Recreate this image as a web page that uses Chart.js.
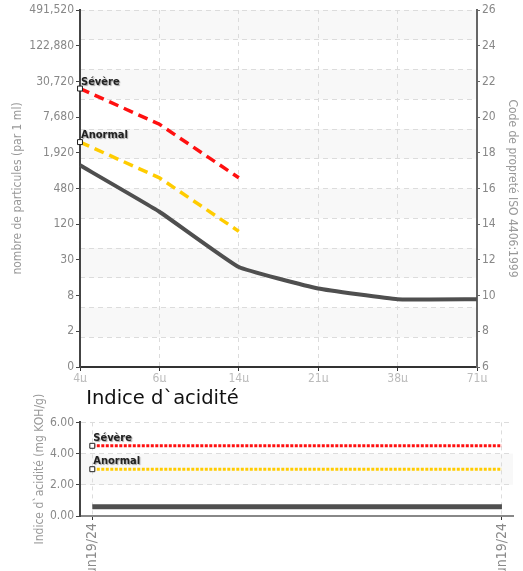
<!DOCTYPE html>
<html>
<head>
<meta charset="utf-8">
<script src="https://cdn.jsdelivr.net/npm/chart.js@4.4.1/dist/chart.umd.min.js"></script>
<style>
    body { margin: 0; background: #fff; }
    .box { position: absolute; left: 0; width: 523px; }
    #particleBox { top: 0; height: 382px; }
    #acidBox { top: 382px; height: 189px; }
</style>
</head>
<body>
<div class="box" id="particleBox"><canvas id="particleChart" width="523" height="382"></canvas></div>
<div class="box" id="acidBox"><canvas id="acidChart" width="523" height="189"></canvas></div>
<script>
// Particle counts, plotted on the ISO 4406 code scale
const sizeLabels = ['4\u00b5', '6\u00b5', '14\u00b5', '21\u00b5', '38\u00b5', '71\u00b5'];
const countTickLabels = ['0', '2', '8', '30', '120', '480', '1,920', '7,680', '30,720', '122,880', '491,520'];
const sampleCodes = [17.3, 14.7, 11.6, 10.4, 9.8, 9.8];
const severeCodes = [21.6, 19.6, 16.6];
const abnormalCodes = [18.6, 16.6, 13.6];

// Acid number
const acidDates = ['Jun19/24', 'Jun19/24'];
const acidSample = [0.6, 0.6];
const acidSevere = [4.5, 4.5];
const acidAbnormal = [3.0, 3.0];

Chart.defaults.font.family = '"DejaVu Sans Condensed", "DejaVu Sans", sans-serif';
Chart.defaults.font.size = 12;
Chart.defaults.color = '#888';
Chart.defaults.animation = false;

const GRID = '#dcdcdc';
const BAND = '#f8f8f8';

// light bands between every other grid line
function bandPlugin(scaleId, bands) {
    return {
        id: 'bands',
        beforeDraw(chart) {
            const { ctx, chartArea } = chart;
            const s = chart.scales[scaleId];
            ctx.save();
            ctx.fillStyle = BAND;
            bands.forEach(([a, b]) => {
                const y1 = s.getPixelForValue(a);
                const y2 = s.getPixelForValue(b);
                ctx.fillRect(chartArea.left, Math.min(y1, y2), chartArea.right - chartArea.left, Math.abs(y2 - y1));
            });
            ctx.restore();
        }
    };
}

// "Sévère" / "Anormal" tags next to the first point
const flagPlugin = {
    id: 'flags',
    afterDatasetsDraw(chart) {
        const ctx = chart.ctx;
        chart.data.datasets.forEach((ds, i) => {
            if (!ds.flagLabel) return;
            const pt = chart.getDatasetMeta(i).data[0];
            ctx.save();
            ctx.font = 'bold 11px "DejaVu Sans Condensed", "DejaVu Sans", sans-serif';
            ctx.fillStyle = '#222';
            ctx.textAlign = 'left';
            ctx.textBaseline = 'alphabetic';
            ctx.shadowColor = 'rgba(0,0,0,0.35)';
            ctx.shadowOffsetX = 1;
            ctx.shadowOffsetY = 1;
            ctx.shadowBlur = 1;
            ctx.fillText(ds.flagLabel, pt.x + 1, pt.y - ds.flagGap);
            ctx.restore();
        });
    }
};

function limitLine(label, data, color, dash, width, gap) {
    return {
        label: label,
        flagLabel: label,
        flagGap: gap,
        data: data,
        borderColor: color,
        borderWidth: width,
        borderDash: dash,
        tension: 0,
        pointStyle: 'rect',
        pointRadius: data.map((v, i) => i === 0 ? 3.5 : 0),
        pointBackgroundColor: '#fff',
        pointBorderColor: '#222',
        pointBorderWidth: 1,
        fill: false
    };
}

// ---- particle chart ----
const particleBands = [];
for (let i = 0; i < 12; i += 2) particleBands.push([12 - i, 11 - i]);

new Chart(document.getElementById('particleChart'), {
    type: 'line',
    data: {
        labels: sizeLabels,
        datasets: [
            {
                label: 'Échantillon',
                data: sampleCodes,
                borderColor: '#4f4f4f',
                borderWidth: 4,
                tension: 0.1,
                pointRadius: 0,
                fill: false
            },
            limitLine('Sévère', severeCodes, '#ff1010', [10, 6], 3.5, 4),
            limitLine('Anormal', abnormalCodes, '#ffcc00', [10, 6], 3.5, 4)
        ]
    },
    options: {
        responsive: false,
        layout: { padding: { left: 7, top: 10, right: 0, bottom: 0 } },
        plugins: { legend: { display: false }, tooltip: { enabled: false } },
        scales: {
            x: {
                type: 'category',
                offset: false,
                grid: { color: GRID, tickColor: '#333', tickLength: 4 },
                border: { color: '#333', width: 2, dash: [4, 4] },
                ticks: { color: '#bbb', padding: 1, maxRotation: 0 },
                afterFit: s => { s.height = 15; }
            },
            y: {
                position: 'left',
                min: 6, max: 26,
                ticks: {
                    stepSize: 2,
                    padding: 2,
                    callback: v => countTickLabels[(v - 6) / 2]
                },
                grid: { drawOnChartArea: false, tickColor: '#444', tickLength: 4 },
                border: { color: '#444', width: 2 },
                title: { display: true, text: 'nombre de particules (par 1 ml)', color: '#999' },
                afterFit: s => { s.width = 73; }
            },
            y2: {
                position: 'right',
                min: 6, max: 26,
                ticks: { stepSize: 2, padding: 2 },
                grid: { drawOnChartArea: false, tickColor: '#666', tickLength: 3 },
                border: { color: '#666', width: 2 },
                title: { display: true, text: 'Code de propreté ISO 4406:1999', color: '#999' },
                afterFit: s => { s.width = 46; }
            },
            g: {
                position: 'left',
                min: 0, max: 12,
                ticks: { display: false, stepSize: 1 },
                grid: { color: GRID, drawTicks: false },
                border: { display: false, dash: [5, 4] }
            }
        }
    },
    plugins: [bandPlugin('g', particleBands), flagPlugin]
});

// ---- acid number chart ----
const toPoints = arr => arr.map((v, i) => ({ x: i, y: v }));

new Chart(document.getElementById('acidChart'), {
    type: 'line',
    data: {
        datasets: [
            {
                label: 'Échantillon',
                data: toPoints(acidSample),
                borderColor: '#4f4f4f',
                borderWidth: 5,
                pointRadius: 0,
                fill: false
            },
            limitLine('Sévère', toPoints(acidSevere), '#ff1010', [3, 1.5], 3, 5),
            limitLine('Anormal', toPoints(acidAbnormal), '#ffcc00', [3, 1.5], 3, 5)
        ]
    },
    options: {
        responsive: false,
        layout: { padding: { left: 29, top: 0, right: 10, bottom: 0 } },
        plugins: {
            legend: { display: false },
            tooltip: { enabled: false },
            title: {
                display: true,
                text: ' Indice d`acidité',
                align: 'start',
                fullSize: false,
                color: '#111',
                font: { family: '"DejaVu Sans", sans-serif', size: 19.5, weight: 'normal' },
                padding: { top: 5, bottom: 12 }
            }
        },
        scales: {
            x: {
                type: 'linear',
                min: -0.03, max: 1.027,
                afterBuildTicks: s => { s.ticks = acidDates.map((d, i) => ({ value: i })); },
                ticks: {
                    minRotation: 90, maxRotation: 90,
                    padding: 3,
                    font: { size: 14 },
                    callback: (v, i) => acidDates[i]
                },
                grid: { color: GRID, tickColor: '#333', tickLength: 4 },
                border: { color: '#888', width: 2, dash: [4, 4] },
                afterFit: s => { s.height = 55; }
            },
            y: {
                min: 0, max: 6,
                ticks: { stepSize: 2, padding: 2, callback: v => v.toFixed(2) },
                grid: { color: GRID, tickColor: '#444', tickLength: 4 },
                border: { color: '#444', width: 2, dash: [5, 4] },
                title: { display: true, text: 'Indice d`acidité (mg KOH/g)', color: '#999' },
                afterFit: s => { s.width = 51; }
            }
        }
    },
    plugins: [bandPlugin('y', [[2, 4]]), flagPlugin]
});
</script>
</body>
</html>
